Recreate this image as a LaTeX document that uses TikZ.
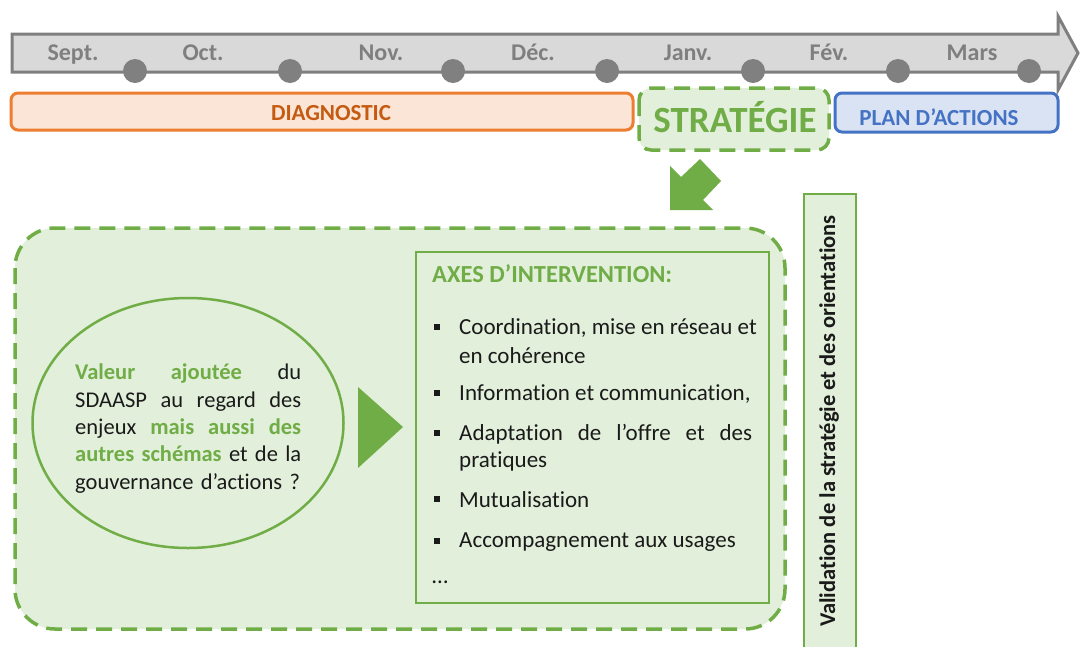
\documentclass[tikz,border=0pt]{standalone}
\usepackage{fontspec}
\setmainfont{Carlito}[RawFeature=-liga]
\usetikzlibrary{shapes.geometric}
\definecolor{tlfill}{HTML}{D9D9D9}
\definecolor{tlgray}{HTML}{7F7F7F}
\definecolor{dotgray}{HTML}{808080}
\definecolor{orangeln}{HTML}{ED7D31}
\definecolor{orangefl}{HTML}{FBE5D6}
\definecolor{orangetx}{HTML}{C55A11}
\definecolor{greenln}{HTML}{70AD47}
\definecolor{greenfl}{HTML}{E2EFDA}
\definecolor{blueln}{HTML}{4472C4}
\definecolor{bluefl}{HTML}{DAE3F3}
\definecolor{txtdark}{HTML}{1A1A1A}
\tikzset{
  month/.style={font=\fontsize{24}{28}\selectfont\bfseries, text=tlgray, inner sep=0, anchor=base},
  tdot/.style={circle, fill=dotgray, minimum size=24pt, inner sep=0},
  phase/.style={font=\fontsize{23}{27}\selectfont\bfseries, inner sep=0},
  item/.style={font=\fontsize{23}{27}\selectfont, text=txtdark, anchor=west, inner sep=0, align=left},
  bullet/.style={fill=txtdark, minimum size=6pt, inner sep=0},
}
\newcommand{\jline}[1]{\leavevmode\hbox to 226pt{#1}}
\begin{document}
\begin{tikzpicture}[x=1pt,y=-1pt]
\useasboundingbox (0,0) rectangle (1083,646);
% timeline arrow
\draw[fill=tlfill, draw=tlgray, line width=3pt, line join=miter]
  (12,34) -- (1058,34) -- (1058,16) -- (1078,53) -- (1058,90) -- (1058,72) -- (12,72) -- cycle;
\foreach \x/\n in {135/d1,290/d2,453/d3,607/d4,753/d5,898/d6,1029/d7}
  \node[tdot] (\n) at (\x,71) {};
\node[month] (m1) at (73,60) {Sept.};
\node[month] (m2) at (203,60) {Oct.};
\node[month] (m3) at (381,60) {Nov.};
\node[month] (m4) at (533,60) {Déc.};
\node[month] (m5) at (688,60) {Janv.};
\node[month] (m6) at (829,60) {Fév.};
\node[month] (m7) at (972,60) {Mars};
% phase boxes
\draw[draw=orangeln, fill=orangefl, line width=3pt, rounded corners=7pt] (11,93) rectangle (633,130);
\node[phase, text=orangetx] (diag) at (331,113) {DIAGNOSTIC};
\draw[draw=greenln, fill=greenfl, line width=3.5pt, rounded corners=12pt, dash pattern=on 16pt off 9pt] (639,88) rectangle (829,150);
\node[font=\fontsize{37}{42}\selectfont\bfseries, text=greenln, inner sep=0] (strat) at (735,117) {STRATÉGIE};
\draw[draw=blueln, fill=bluefl, line width=3pt, rounded corners=7pt] (835,93) rectangle (1058,132);
\node[phase, text=blueln] (plan) at (939,117) {PLAN D’ACTIONS};
% diagonal block arrow
\fill[greenln] (670,210) -- (670,166) -- (681,177) -- (700,159) -- (721,181) -- (703,200) -- (713,210) -- cycle;
% big container
\draw[draw=greenln, fill=greenfl, line width=3.5pt, rounded corners=40pt, dash pattern=on 16pt off 9pt] (15,228) rectangle (785,629);
% ellipse
\node[ellipse, draw=greenln, line width=2.5pt, minimum width=311pt, minimum height=250pt, inner sep=0] (ell) at (188,423) {};
\node[font=\fontsize{22.5}{27.3}\selectfont, text=txtdark, anchor=north west, inner sep=0, align=left, text width=226pt] (elltext) at (75,364)
 {\jline{\textcolor{greenln}{\bfseries Valeur}\hfill\textcolor{greenln}{\bfseries ajoutée}\hfill du}\\
  \jline{SDAASP\hfill au\hfill regard\hfill des}\\
  \jline{enjeux\hfill\textcolor{greenln}{\bfseries mais}\hfill\textcolor{greenln}{\bfseries aussi}\hfill\textcolor{greenln}{\bfseries des}}\\
  \jline{\textcolor{greenln}{\bfseries autres}\hfill\textcolor{greenln}{\bfseries schémas}\hfill et\hfill de\hfill la}\\
  gouvernance d’actions ?};
% triangle
\fill[greenln] (358,387) -- (403,427) -- (358,468) -- cycle;
% axes box
\draw[draw=greenln, line width=2.5pt] (416,252) rectangle (769,603);
\node[font=\fontsize{24.5}{28}\selectfont\bfseries, text=greenln, anchor=west, inner sep=0] (axes) at (432,274) {AXES D’INTERVENTION:};
\node[item] (i1) at (459,328) {Coordination, mise en réseau et};
\node[item] (i1b) at (459,356) {en cohérence};
\node[item] (i2) at (459,394) {Information et communication,};
\node[item] (i3) at (459,434) {\leavevmode\hbox to 293pt{Adaptation\hfill de\hfill l’offre\hfill et\hfill des}};
\node[item] (i3b) at (459,461) {pratiques};
\node[item] (i4) at (459,500) {Mutualisation};
\node[item] (i5) at (459,542) {Accompagnement aux usages};
\node[item] (i6) at (432,582) {…};
\foreach \y/\n in {327/b1,393/b2,433/b3,499/b4,541/b5}
  \node[bullet] (\n) at (437,\y) {};
% validation bar
\draw[draw=greenln, fill=greenfl, line width=2.5pt] (804,194) rectangle (856,650);
\node[font=\fontsize{22.5}{27}\selectfont\bfseries, text=txtdark, rotate=90, inner sep=0] (valid) at (829,421) {Validation de la stratégie et des orientations};
\end{tikzpicture}
\end{document}
